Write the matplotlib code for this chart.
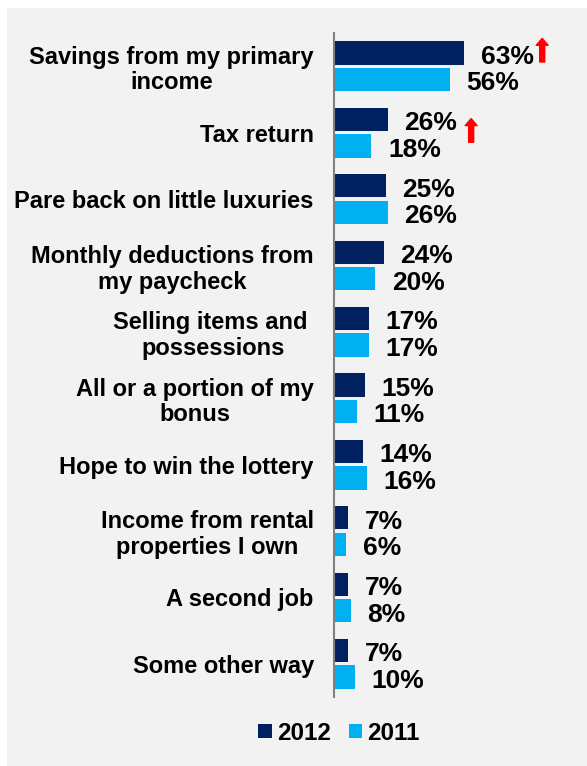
import matplotlib
matplotlib.use("Agg")
import matplotlib.pyplot as plt
from matplotlib.patches import Rectangle, Patch, FancyArrowPatch

categories = [
    "Savings from my primary\nincome",
    "Tax return",
    "Pare back on little luxuries",
    "Monthly deductions from\nmy paycheck",
    "Selling items and \npossessions",
    "All or a portion of my\nbonus",
    "Hope to win the lottery",
    "Income from rental\nproperties I own",
    "A second job",
    "Some other way",
]
values_2012 = [63, 26, 25, 24, 17, 15, 14, 7, 7, 7]
values_2011 = [56, 18, 26, 20, 17, 11, 16, 6, 8, 10]
rising = [True, True, False, False, False, False, False, False, False, False]
series_names = ["2012", "2011"]

DARK = "#002060"
LIGHT = "#00B0F0"
BG = "#f2f2f2"
FONT = ["Liberation Sans", "DejaVu Sans"]

W, H = 587, 766
fig = plt.figure(figsize=(W / 100, H / 100), dpi=100)
fig.patch.set_facecolor("white")
fig.patches.append(Rectangle((7 / W, 0), 1 - 7 / W, 1 - 8 / H,
                             transform=fig.transFigure, facecolor=BG,
                             edgecolor="none", zorder=-10))

ax = fig.add_axes([334 / W, 1 - 697 / H, 1 - 334 / W, (697 - 33) / H])
ax.set_facecolor("none")
ax.set_xlim(0, (W - 334) / 2.07)
ax.set_ylim(len(categories), 0)

n = len(categories)
centers = [i + 0.5 for i in range(n)]
off = 0.2
bh = 0.35
y12 = [c - off for c in centers]
y11 = [c + off for c in centers]
ax.barh(y12, values_2012, height=bh, color=DARK, edgecolor="none")
ax.barh(y11, values_2011, height=bh, color=LIGHT, edgecolor="none")

label_style = dict(ha="left", va="center_baseline", fontsize=19, fontweight="bold",
                   family=FONT, color="black", textcoords="offset points")
for y, v in zip(y12, values_2012):
    ax.annotate(f"{v}%", xy=(v, y), xytext=(12, -1), **label_style)
for y, v in zip(y11, values_2011):
    ax.annotate(f"{v}%", xy=(v, y), xytext=(12, -1), **label_style)

# red up-arrows flagging significant increases (offsets in points from bar end)
arrow_dx = [56, 60]
arrow_dy = [-2, 8]
half_len = 8.5
to_fig = fig.transFigure.inverted()
k = 0
for y, v, up in zip(y12, values_2012, rising):
    if not up:
        continue
    bx, by = ax.transData.transform((v, y))
    x_px = bx + arrow_dx[k] * 100 / 72
    top = to_fig.transform((x_px, by + (half_len - arrow_dy[k]) * 100 / 72))
    bot = to_fig.transform((x_px, by + (-half_len - arrow_dy[k]) * 100 / 72))
    fig.add_artist(FancyArrowPatch(
        posA=tuple(bot), posB=tuple(top), transform=fig.transFigure,
        arrowstyle="simple,head_length=0.5,head_width=0.86,tail_width=0.36",
        mutation_scale=10, color="#ff0000", shrinkA=0, shrinkB=0))
    k += 1

ax.set_yticks(centers)
ax.set_yticklabels(categories, fontsize=17, fontweight="bold", family=FONT,
                   multialignment="center", linespacing=1.15)
ax.tick_params(axis="y", length=0, pad=14.5)
ax.set_xticks([])
for s in ["top", "right", "bottom"]:
    ax.spines[s].set_visible(False)
ax.spines["left"].set_color("#808080")
ax.spines["left"].set_linewidth(1.5)

handles = [Patch(facecolor=DARK, edgecolor="none"),
           Patch(facecolor=LIGHT, edgecolor="none")]
fig.legend(handles, series_names, loc="center", bbox_to_anchor=(339 / W, 1 - 733 / H),
           ncol=2, frameon=False, handlelength=0.55, handleheight=0.55,
           handletextpad=0.2, columnspacing=0.76,
           prop={"family": FONT, "weight": "bold", "size": 17.5})

fig.savefig("out.png", dpi=100, facecolor=fig.get_facecolor())
